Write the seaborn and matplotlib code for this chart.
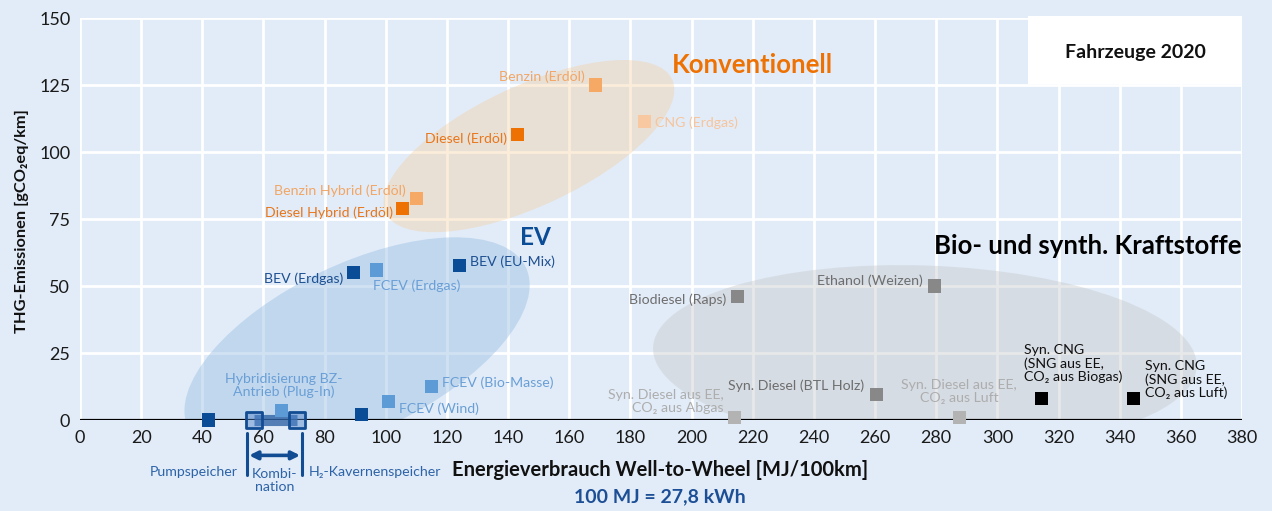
import numpy as np
import pandas as pd
import matplotlib
matplotlib.use("Agg")
import matplotlib.pyplot as plt
import seaborn as sns
from matplotlib.patches import Ellipse, Rectangle
from matplotlib.transforms import ScaledTranslation

# ---- data -------------------------------------------------------------
labels = [
    "Benzin (Erdöl)", "CNG (Erdgas)", "Diesel (Erdöl)",
    "Benzin Hybrid (Erdöl)", "Diesel Hybrid (Erdöl)",
    "BEV (Erdgas)", "FCEV (Erdgas)", "BEV (EU-Mix)",
    "FCEV (Bio-Masse)", "FCEV (Wind)", "Hybridisierung BZ-\nAntrieb (Plug-In)",
    "", "",
    "Biodiesel (Raps)", "Ethanol (Weizen)", "Syn. Diesel (BTL Holz)",
    "Syn. Diesel aus EE,\nCO₂ aus Abgas", "Syn. Diesel aus EE,\nCO₂ aus Luft",
    "Syn. CNG\n(SNG aus EE,\nCO₂ aus Biogas)", "Syn. CNG\n(SNG aus EE,\nCO₂ aus Luft)",
]
energy = [168.5, 184.5, 143, 110, 105.5, 89.5, 97, 124, 115, 101, 66, 92, 42,
          215, 279.5, 260.5, 214, 287.5, 314.5, 344.5]
emissions = [125, 111.5, 106.5, 82.5, 79, 55, 56, 57.5, 12.5, 7, 3.5, 2, 0,
             46, 50, 9.5, 1, 1, 8, 8]
groups = ["benzin", "cng", "diesel", "benzin", "diesel",
          "bev", "fcev", "bev", "fcev", "fcev", "fcev", "bev", "bev",
          "bio", "bio", "bio", "efuel", "efuel", "sng", "sng"]

# storage combination range (pump storage <-> H2 cavern storage)
combo_energy = [57, 71]
combo_emissions = [0, 0]

x_ticks = list(range(0, 381, 20))
y_ticks = list(range(0, 151, 25))

# ---- styling ----------------------------------------------------------
bg = "#e2ecf8"
marker_colors = {
    "benzin": "#f5a964", "cng": "#f8c9a0", "diesel": "#ee7203",
    "bev": "#0b4c96", "fcev": "#5d9bd6",
    "bio": "#888888", "efuel": "#b3b3b3", "sng": "#000000",
}
text_colors = {
    "benzin": "#f2a665", "cng": "#f6c59d", "diesel": "#e8761a",
    "bev": "#1d4f91", "fcev": "#6a9fd6",
    "bio": "#6e6e6e", "efuel": "#adadad", "sng": "#111111",
}
# label placement: offset in pixels from the marker, horizontal alignment
label_offsets = [(-11, 8), (11, -2), (-10, -4), (-11, 8), (-10, -4),
                 (-10, -6), (-4, -16), (11, 4), (10, 4), (10, -7), (2, 25),
                 (0, 0), (0, 0),
                 (-11, -3), (-12, 5), (-12, 9), (-11, 16), (0, 26),
                 (-18, 35), (12, 19)]
label_ha = ["right", "left", "right", "right", "right",
            "right", "left", "left", "left", "left", "center",
            "left", "left",
            "right", "right", "right", "right", "center", "left", "left"]

sns.set_theme(style="whitegrid")
sans = ["Lato", "DejaVu Sans"]
plt.rcParams["font.family"] = sans

fig = plt.figure(figsize=(12.72, 5.11), dpi=100, facecolor=bg)
ax = fig.add_axes([80 / 1272, 91 / 511, 1162 / 1272, 402 / 511])
ax.set_facecolor(bg)

df = pd.DataFrame({"energy": energy, "emissions": emissions,
                   "group": groups, "label": labels})

ax.set_xlim(0, 380)
ax.set_ylim(0, 150)
ax.set_xticks(x_ticks)
ax.set_yticks(y_ticks)
ax.grid(True, color="white", linewidth=2.0)
ax.set_axisbelow(True)
for s in ax.spines.values():
    s.set_visible(False)
ax.tick_params(axis="both", length=0, labelsize=13, colors="#1a1a1a", pad=7)

# group ellipses drawn in pixel units around a data-space centre
def group_ellipse(cx, cy, a_px, b_px, angle, color, alpha):
    tr = fig.dpi_scale_trans + ScaledTranslation(cx, cy, ax.transData)
    e = Ellipse((0, 0), 2 * a_px / fig.dpi, 2 * b_px / fig.dpi, angle=angle,
                transform=tr, facecolor=color, edgecolor="none",
                alpha=alpha, zorder=1)
    ax.add_patch(e)

group_ellipse(146.8, 102.2, 158, 60, 25, "#f7c487", 0.30)
group_ellipse(90.6, 26.9, 187, 84, 25.5, "#98bfe4", 0.45)
group_ellipse(276.3, 23.5, 272, 91.5, -2, "#c4c6c8", 0.40)

# zero baseline
ax.axhline(0, color="black", linewidth=2.3, zorder=2)

# combination range bar and its end markers
ax.plot(combo_energy, combo_emissions, color="#2f64a6", linewidth=8,
        alpha=0.8, solid_capstyle="butt", zorder=3, clip_on=False)
ax.scatter(combo_energy, combo_emissions, marker="s", s=120,
           facecolor=(0.30, 0.50, 0.78, 0.45), edgecolor="#124c93",
           linewidth=2, zorder=4, clip_on=False)

sns.scatterplot(data=df, x="energy", y="emissions", hue="group",
                palette=marker_colors, marker="s", s=90, linewidth=0,
                legend=False, ax=ax, zorder=5, clip_on=False)

for i, row in df.iterrows():
    if not row["label"]:
        continue
    ax.annotate(row["label"], xy=(row["energy"], row["emissions"]),
                xytext=label_offsets[i], textcoords="offset pixels",
                ha=label_ha[i], va="center", fontsize=10.2,
                color=text_colors[row["group"]],
                linespacing=1.1, zorder=6, annotation_clip=False)

# group headings
ax.text(193.6, 132.5, "Konventionell", color="#ee7203", fontsize=18.5,
        fontweight="bold", ha="left", va="center", zorder=6)
ax.text(149, 68, "EV", color="#0b4c96", fontsize=17.5,
        fontweight="bold", ha="center", va="center", zorder=6)
ax.text(379.7, 65, "Bio- und synth. Kraftstoffe", color="black", fontsize=18.5,
        fontweight="bold", ha="right", va="center", zorder=6)

# year box
ax.add_patch(Rectangle((310, 125.4), 70, 25.3, facecolor="white",
                       edgecolor="none", zorder=4, clip_on=False))
ax.text(345, 137.3, "Fahrzeuge 2020", fontsize=14, fontweight="bold",
        ha="center", va="center", color="#111111", zorder=6)

# storage annotation below the axis
blue_txt = "#2d63a8"
for xv in (54.6, 72.6):
    ax.plot([xv, xv], [-4.9, -20.5], color="#124c93", linewidth=2.2,
            clip_on=False, zorder=5)
ax.annotate("", xy=(72.0, -13.2), xytext=(55.3, -13.2),
            arrowprops=dict(arrowstyle="<|-|>", color="#124c93", lw=2.6,
                            mutation_scale=12, shrinkA=0, shrinkB=0),
            annotation_clip=False)
ax.text(51.7, -19.4, "Pumpspeicher", ha="right", va="center", fontsize=10.2,
        color=blue_txt, clip_on=False)
ax.text(63.6, -22.6, "Kombi-\nnation", ha="center", va="center", fontsize=10.2,
        color=blue_txt, linespacing=1.1, clip_on=False)
ax.text(74.9, -19.4, "H₂-Kavernenspeicher", ha="left", va="center",
        fontsize=10.2, color=blue_txt, clip_on=False)

ax.set_xlabel("")
ax.set_ylabel("")
fig.text(660 / 1272, 1 - 470 / 511, "Energieverbrauch Well-to-Wheel [MJ/100km]",
         ha="center", va="center", fontsize=14.5, fontweight="bold", color="#111111")
fig.text(660 / 1272, 1 - 497 / 511, "100 MJ = 27,8 kWh", ha="center",
         va="center", fontsize=14, fontweight="bold", color="#1c4f96")
fig.text(22 / 1272, 1 - 221 / 511, "THG-Emissionen [gCO₂eq/km]", rotation=90,
         ha="center", va="center", fontsize=11.8, fontweight="bold", color="#111111")

fig.savefig("out.png", dpi=100, facecolor=bg)
